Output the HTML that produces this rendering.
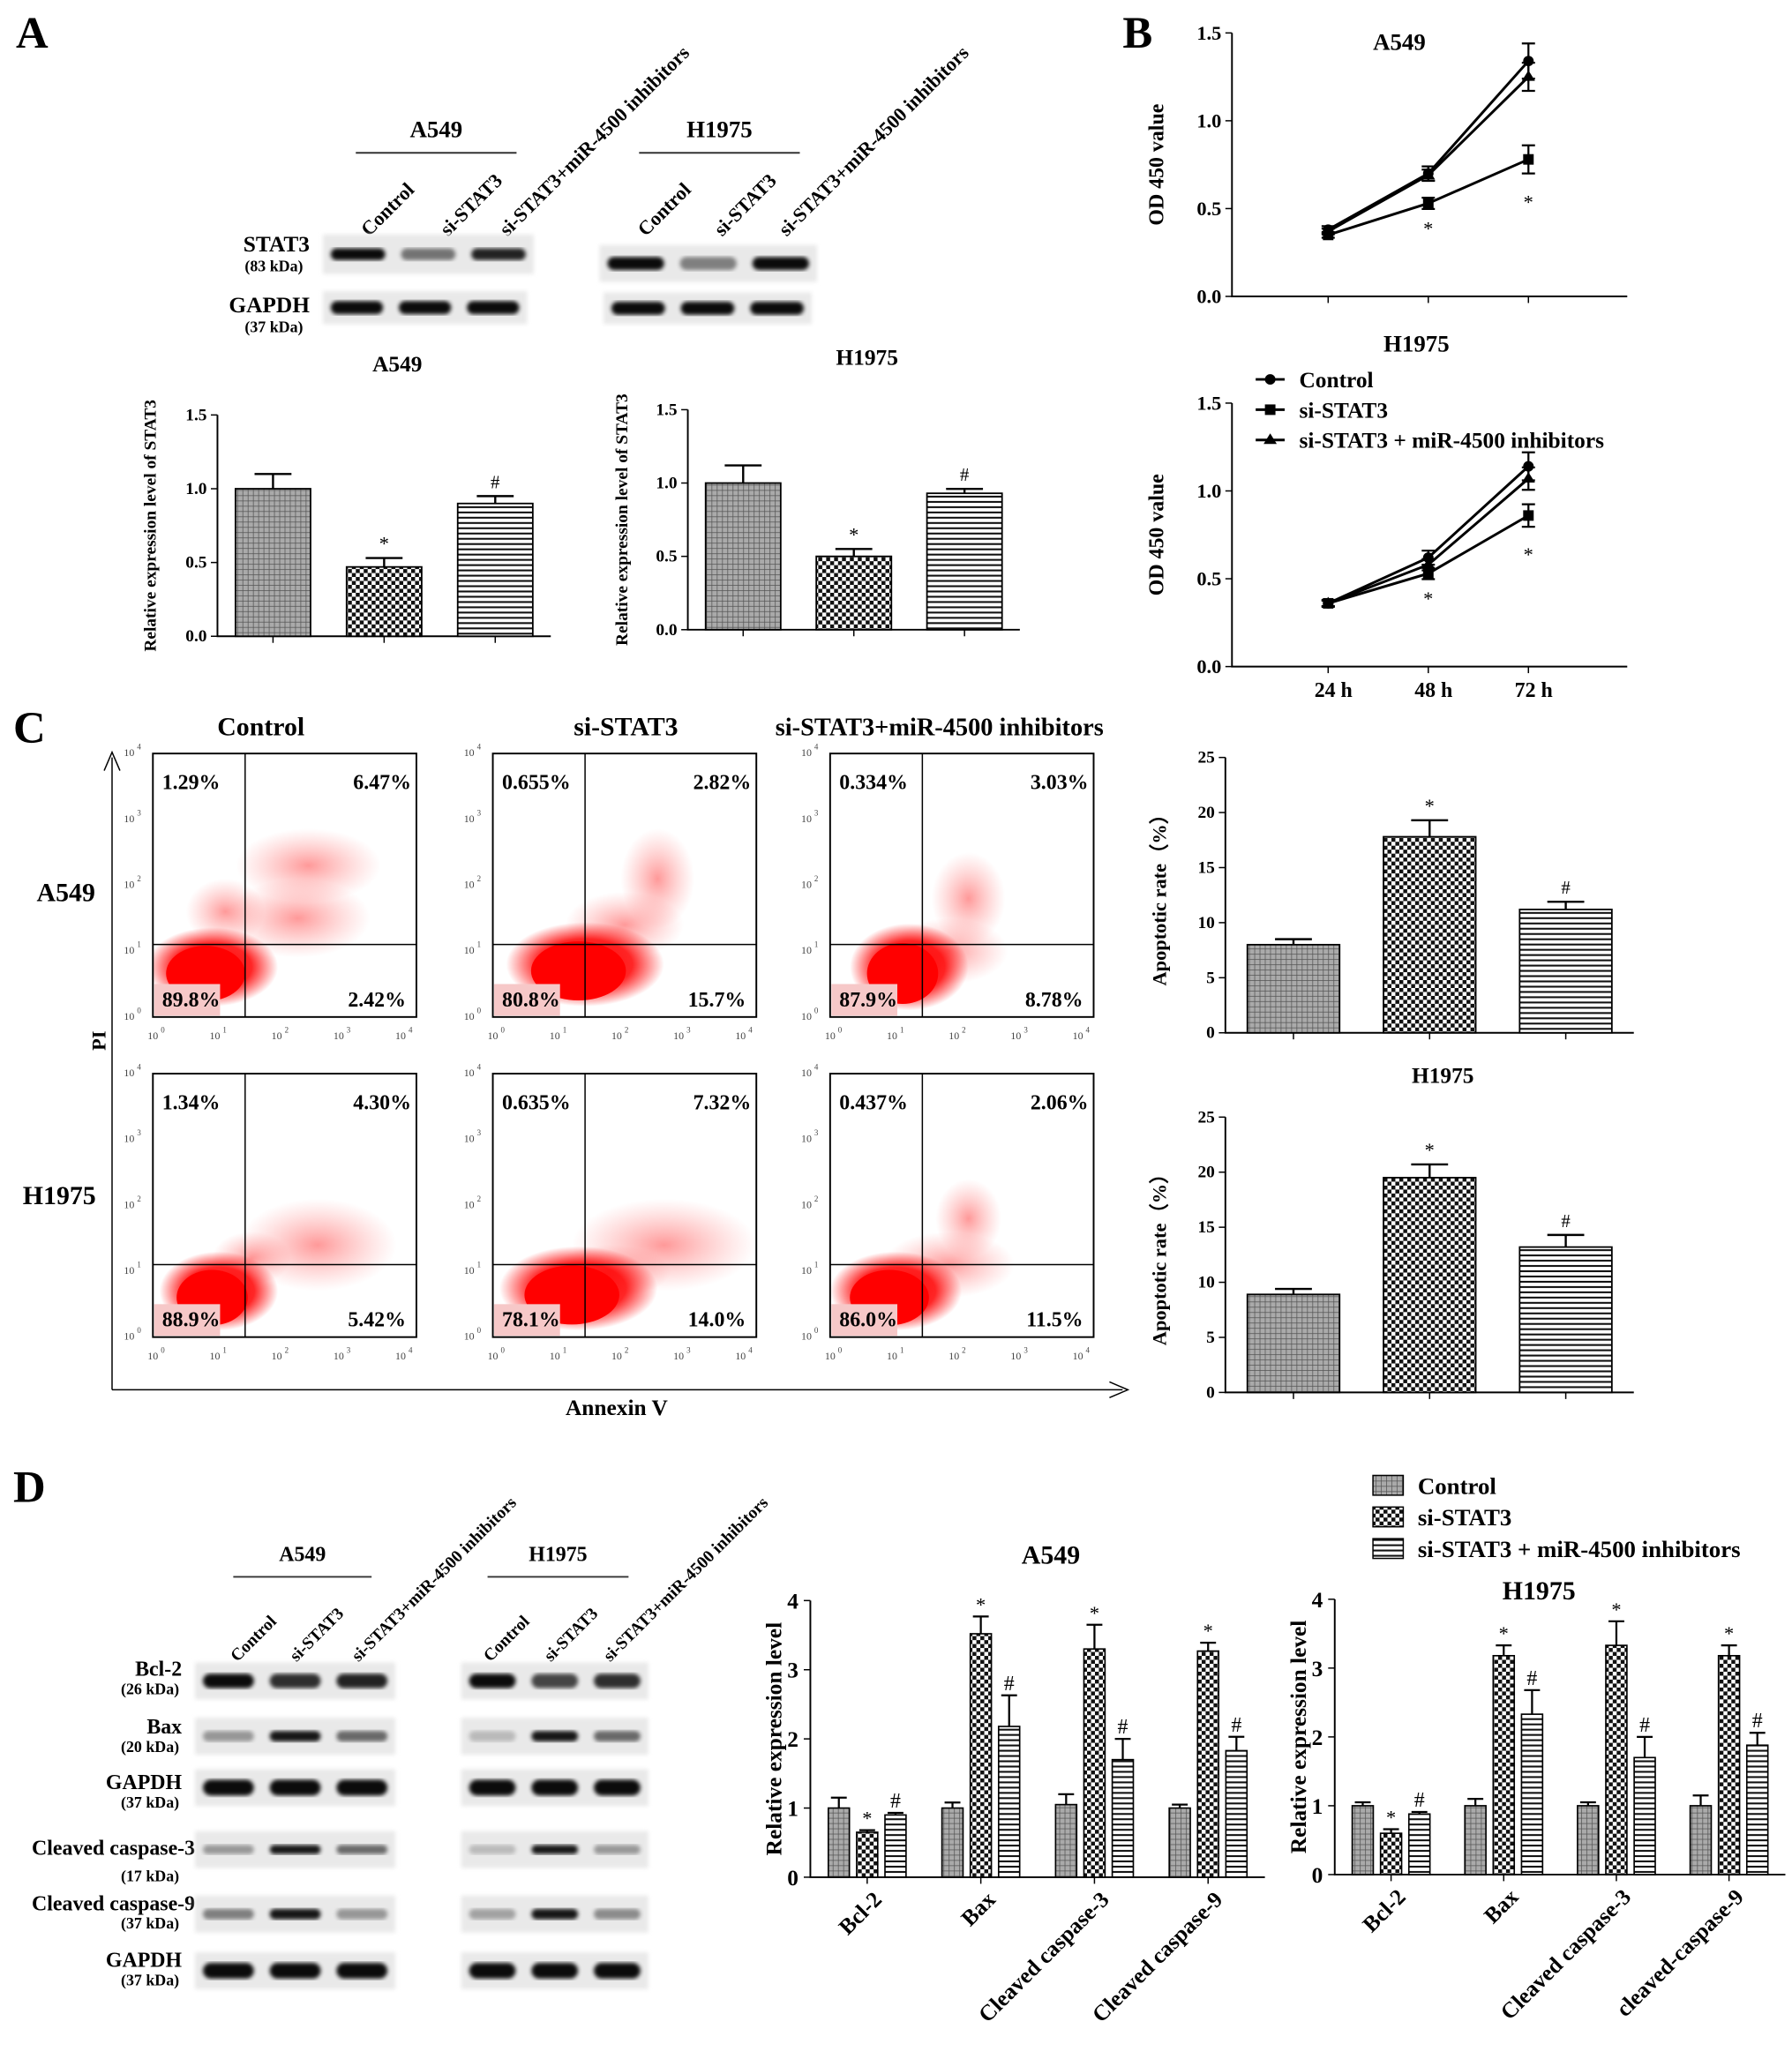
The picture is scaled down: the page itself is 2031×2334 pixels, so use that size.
<!DOCTYPE html>
<html><head><meta charset="utf-8"><style>
html,body{margin:0;padding:0;background:#fff;}
svg{display:block;font-family:"Liberation Serif",serif;font-weight:bold;}
</style></head><body>
<svg id="fig" xmlns="http://www.w3.org/2000/svg" width="2031" height="2334" viewBox="0 0 1360 1563">
<defs id="defs">
<pattern id="pCtrl" width="4" height="4" patternUnits="userSpaceOnUse"><rect width="4" height="4" fill="#aaa"/><path d="M0 0H4M0 0V4" stroke="#555" stroke-width="1"/></pattern>
<pattern id="pSi" width="6" height="6" patternUnits="userSpaceOnUse"><rect width="6" height="6" fill="#fff"/><rect width="3" height="3" fill="#111"/><rect x="3" y="3" width="3" height="3" fill="#111"/></pattern>
<pattern id="pInh" width="4" height="4" patternUnits="userSpaceOnUse"><rect width="4" height="4" fill="#fff"/><path d="M0 1H4" stroke="#111" stroke-width="1.4"/></pattern>
<filter id="blur1"><feGaussianBlur stdDeviation="1.6"/></filter>
<radialGradient id="gMain"><stop offset="0" stop-color="#f00" stop-opacity="1"/><stop offset="0.6" stop-color="#f00" stop-opacity="0.85"/><stop offset="1" stop-color="#f00" stop-opacity="0"/></radialGradient>
<radialGradient id="gCloud"><stop offset="0" stop-color="#f33" stop-opacity="0.5"/><stop offset="1" stop-color="#f66" stop-opacity="0"/></radialGradient>
</defs>
<g font-size="34">
<text x="12" y="36">A</text><text x="852" y="36">B</text><text x="10" y="564">C</text><text x="10" y="1140">D</text>
</g>
</svg>
<script>
// ---------- data ----------
const groups = ['Control','si-STAT3','si-STAT3+miR-4500 inhibitors'];
const stat3A549Vals = [1.0, 0.47, 0.9];
const stat3A549Err = [0.1, 0.06, 0.05];
const stat3H1975Vals = [1.0, 0.5, 0.93];
const stat3H1975Err = [0.12, 0.05, 0.03];
const stat3Ticks = [0, 0.5, 1.0, 1.5];
const marks = ['', '*', '#'];

const times = ['24 h','48 h','72 h'];
const odA549Ctrl = [0.38, 0.70, 1.34];
const odA549Si = [0.35, 0.53, 0.78];
const odA549Inh = [0.37, 0.69, 1.25];
const odA549Err = [0.02, 0.04, 0.1];
const odH1975Ctrl = [0.36, 0.62, 1.14];
const odH1975Si = [0.36, 0.53, 0.86];
const odH1975Inh = [0.36, 0.58, 1.07];
const odH1975Err = [0.02, 0.04, 0.08];
const odTicks = [0, 0.5, 1.0, 1.5];

const flowA549UL = ['1.29%','0.655%','0.334%'];
const flowA549UR = ['6.47%','2.82%','3.03%'];
const flowA549LL = ['89.8%','80.8%','87.9%'];
const flowA549LR = ['2.42%','15.7%','8.78%'];
const flowH1975UL = ['1.34%','0.635%','0.437%'];
const flowH1975UR = ['4.30%','7.32%','2.06%'];
const flowH1975LL = ['88.9%','78.1%','86.0%'];
const flowH1975LR = ['5.42%','14.0%','11.5%'];

const apoA549Vals = [8.0, 17.8, 11.2];
const apoA549Err = [0.5, 1.5, 0.7];
const apoH1975Vals = [8.9, 19.5, 13.2];
const apoH1975Err = [0.5, 1.2, 1.1];
const apoTicks = [0, 5, 10, 15, 20, 25];

const proteins = ['Bcl-2','Bax','Cleaved caspase-3','Cleaved caspase-9'];
const proteinsH = ['Bcl-2','Bax','Cleaved caspase-3','cleaved-caspase-9'];
const dA549Ctrl = [1.0, 1.0, 1.05, 1.0];
const dA549Si = [0.65, 3.52, 3.3, 3.27];
const dA549Inh = [0.9, 2.18, 1.7, 1.83];
const dA549CtrlErr = [0.15, 0.08, 0.15, 0.05];
const dA549SiErr = [0.03, 0.25, 0.35, 0.12];
const dA549InhErr = [0.03, 0.45, 0.3, 0.2];
const dH1975Ctrl = [1.0, 1.0, 1.0, 1.0];
const dH1975Si = [0.6, 3.18, 3.33, 3.18];
const dH1975Inh = [0.88, 2.33, 1.7, 1.88];
const dH1975CtrlErr = [0.05, 0.1, 0.05, 0.15];
const dH1975SiErr = [0.06, 0.15, 0.35, 0.15];
const dH1975InhErr = [0.03, 0.35, 0.3, 0.18];
const dTicks = [0, 1, 2, 3, 4];

const NS = 'http://www.w3.org/2000/svg';
const svg = document.getElementById('fig');
const defs = document.getElementById('defs');
function mk(tag, a, parent) {
  const e = document.createElementNS(NS, tag);
  for (const k in a) e.setAttribute(k, a[k]);
  (parent || svg).appendChild(e);
  return e;
}
function tx(x, y, s, size, parent, extra) {
  const e = mk('text', Object.assign({x: x, y: y, 'font-size': size}, extra || {}), parent);
  e.textContent = s;
  return e;
}
function grp(name) {
  const g = mk('g', {});
  
  
  return g;
}
const fills = ['url(#pCtrl)', 'url(#pSi)', 'url(#pInh)'];

function barChart(name, cfg, vals, errs, ticks, title, ytitle) {
  const g = grp(name);
  const y = v => cfg.y0 - (v - ticks[0]) / (ticks[ticks.length - 1] - ticks[0]) * (cfg.y0 - cfg.yTop);
  const ax = mk('path', {d: `M${cfg.x0} ${cfg.yTop}V${cfg.y0}H${cfg.x1}`, stroke: '#000', fill: 'none', 'stroke-width': 1.3}, g);
  
  
  ticks.forEach(t => {
    mk('line', {x1: cfg.x0 - 5, x2: cfg.x0, y1: y(t), y2: y(t), stroke: '#000'}, g);
    const lab = tx(cfg.x0 - 8, y(t) + 4, cfg.fmt(t), 13, g, {'text-anchor': 'end'});
    
    
  });
  const n = vals.length, slot = (cfg.x1 - cfg.x0) / n;
  vals.forEach((v, i) => {
    const cx = cfg.x0 + slot * (i + 0.5);
    mk('line', {x1: cx, x2: cx, y1: cfg.y0, y2: cfg.y0 + 5, stroke: '#000'}, g);
    const r = mk('rect', {x: cx - cfg.bw / 2, y: y(v), width: cfg.bw, height: cfg.y0 - y(v), fill: fills[i], stroke: '#000', 'stroke-width': 1.2}, g);
    
    
    const ye = y(v + errs[i]);
    mk('path', {d: `M${cx} ${y(v)}V${ye}M${cx - 14} ${ye}H${cx + 14}`, stroke: '#000', 'stroke-width': 1.6}, g);
    if (marks[i]) tx(cx, ye - 6, marks[i], marks[i] === '*' ? 15 : 14, g, {'text-anchor': 'middle', 'font-weight': 'normal'});
  });
  if (title) tx((cfg.x0 + cfg.x1) / 2 + 10, cfg.titleY, title, 17, g, {'text-anchor': 'middle'});
  const yt = tx(0, 0, ytitle, cfg.ytSize || 14, g, {'text-anchor': 'middle', transform: `translate(${cfg.ytX},${(cfg.y0 + cfg.yTop) / 2}) rotate(-90)`});
  
  
}

function blot(name, x, y, w, h, intens, bandH) {
  const g = grp(name);
  mk('rect', {x: x, y: y, width: w, height: h, fill: '#e9e9e9', filter: 'url(#blur1)'}, g);
  const lw = w / 3;
  intens.forEach((a, i) => {
    const b = mk('rect', {x: x + lw * i + 6, y: y + h / 2 - bandH / 2, width: lw - 12, height: bandH, rx: bandH / 2, fill: '#000', opacity: a, filter: 'url(#blur1)'}, g);
    
    
  });
}
function laneHeaders(name, title, tx0, lineX1, lineX2, titleY, lanesX, lanesY, size) {
  const g = grp(name);
  tx((lineX1 + lineX2) / 2, titleY, title, size + 3, g, {'text-anchor': 'middle'});
  mk('line', {x1: lineX1, x2: lineX2, y1: titleY + 12, y2: titleY + 12, stroke: '#333', 'stroke-width': 1.3}, g);
  groups.forEach((s, i) => {
    tx(0, 0, s, size, g, {transform: `translate(${lanesX[i]},${lanesY}) rotate(-45)`});
  });
}

laneHeaders('a549-blot-header', 'A549', 0, 270, 392, 104, [280, 340, 385], 180, 15);
laneHeaders('h1975-blot-header', 'H1975', 0, 485, 607, 104, [490, 548, 597], 180, 15);
blot('a549-stat3-blot', 245, 178, 160, 30, [0.95, 0.5, 0.85], 9);
blot('a549-gapdh-blot', 245, 221, 155, 25, [0.95, 0.95, 0.95], 10);
blot('h1975-stat3-blot', 455, 186, 165, 28, [0.95, 0.45, 0.95], 10);
blot('h1975-gapdh-blot', 458, 222, 158, 24, [0.95, 0.95, 0.95], 10);
{
  const g = grp('a-blot-labels');
  tx(235, 191, 'STAT3', 17, g, {'text-anchor': 'end'});
  tx(230, 206, '(83 kDa)', 12, g, {'text-anchor': 'end'});
  tx(235, 237, 'GAPDH', 17, g, {'text-anchor': 'end'});
  tx(230, 252, '(37 kDa)', 12, g, {'text-anchor': 'end'});
}
const f1 = t => t === 0 ? '0.0' : t.toFixed(1);
barChart('stat3-a549-chart', {x0: 165, x1: 418, y0: 483, yTop: 315, bw: 57, titleY: 282, ytX: 118, fmt: f1, ytSize: 13}, stat3A549Vals, stat3A549Err, stat3Ticks, 'A549', 'Relative expression level of STAT3');
barChart('stat3-h1975-chart', {x0: 522, x1: 774, y0: 478, yTop: 311, bw: 57, titleY: 277, ytX: 476, fmt: f1, ytSize: 13}, stat3H1975Vals, stat3H1975Err, stat3Ticks, 'H1975', 'Relative expression level of STAT3');

function lineChart(name, cfg, series, err, title, showX) {
  const g = grp(name);
  const y = v => cfg.y0 - v / 1.5 * (cfg.y0 - cfg.yTop);
  const x = i => 1008 + i * 76;
  mk('path', {d: `M${cfg.x0} ${cfg.yTop}V${cfg.y0}H1235`, stroke: '#000', fill: 'none', 'stroke-width': 1.3}, g);
  odTicks.forEach(t => {
    mk('line', {x1: cfg.x0 - 5, x2: cfg.x0, y1: y(t), y2: y(t), stroke: '#000'}, g);
    tx(cfg.x0 - 8, y(t) + 5, t.toFixed(1), 15, g, {'text-anchor': 'end'});
  });
  times.forEach((t, i) => {
    mk('line', {x1: x(i), x2: x(i), y1: cfg.y0, y2: cfg.y0 + 5, stroke: '#000'}, g);
    if (showX) tx(x(i) + 4, cfg.y0 + 23, t, 16, g, {'text-anchor': 'middle'});
  });
  series.forEach((s, k) => {
    const p = mk('polyline', {points: s.map((v, i) => x(i) + ',' + y(v)).join(' '), fill: 'none', stroke: '#000', 'stroke-width': 2}, g);
    
    
    s.forEach((v, i) => {
      const e = err[i] * (k === 0 ? 1 : 0.8);
      mk('path', {d: `M${x(i)} ${y(v - e)}V${y(v + e)}M${x(i) - 5} ${y(v + e)}h10M${x(i) - 5} ${y(v - e)}h10`, stroke: '#000', 'stroke-width': 1.5}, g);
      if (k === 0) mk('circle', {cx: x(i), cy: y(v), r: 4, fill: '#000'}, g);
      else if (k === 1) mk('rect', {x: x(i) - 4, y: y(v) - 4, width: 8, height: 8, fill: '#000'}, g);
      else mk('path', {d: `M${x(i)} ${y(v) - 5}l5 8h-10z`, fill: '#000'}, g);
    });
    if (k === 1) { tx(x(1), y(s[1]) + 24, '*', 15, g, {'text-anchor': 'middle', 'font-weight': 'normal'}); tx(x(2), y(s[2] - err[2]) + 24, '*', 15, g, {'text-anchor': 'middle', 'font-weight': 'normal'}); }
  });
  tx(1062, cfg.yTop + 13, title, 18, g, {'text-anchor': 'middle'});
  tx(0, 0, 'OD 450 value', 16, g, {'text-anchor': 'middle', transform: `translate(${cfg.x0 - 52},${(cfg.y0 + cfg.yTop) / 2}) rotate(-90)`});
}
lineChart('od-a549-chart', {x0: 935, y0: 225, yTop: 25}, [odA549Ctrl, odA549Si, odA549Inh], odA549Err, 'A549', false);
lineChart('od-h1975-chart', {x0: 935, y0: 506, yTop: 306}, [odH1975Ctrl, odH1975Si, odH1975Inh], odH1975Err, '', true);
{
  const g = grp('od-h1975-title');
  tx(1075, 267, 'H1975', 18, g, {'text-anchor': 'middle'});
  const lg = grp('od-legend');
  const labs = ['Control', 'si-STAT3', 'si-STAT3 + miR-4500 inhibitors'];
  labs.forEach((s, i) => {
    const yy = 288 + i * 23;
    mk('line', {x1: 953, x2: 975, y1: yy, y2: yy, stroke: '#000', 'stroke-width': 2}, lg);
    if (i === 0) mk('circle', {cx: 964, cy: yy, r: 4, fill: '#000'}, lg);
    else if (i === 1) mk('rect', {x: 960, y: yy - 4, width: 8, height: 8, fill: '#000'}, lg);
    else mk('path', {d: `M964 ${yy - 5}l5 8h-10z`, fill: '#000'}, lg);
    const t = tx(986, yy + 6, s, 17, lg);
    
    
  });
}

{
  const g = grp('flow-frame');
  mk('path', {d: 'M85 1055V575M79 585L85 571L91 585', stroke: '#000', fill: 'none', 'stroke-width': 1}, g);
  mk('path', {d: 'M85 1055H852M842 1049L856 1055L842 1061', stroke: '#000', fill: 'none', 'stroke-width': 1}, g);
  tx(0, 0, 'PI', 15, g, {'text-anchor': 'middle', transform: 'translate(80,790) rotate(-90)'});
  tx(468, 1074, 'Annexin V', 17, g, {'text-anchor': 'middle'});
  tx(198, 558, 'Control', 20, g, {'text-anchor': 'middle'});
  tx(475, 558, 'si-STAT3', 20, g, {'text-anchor': 'middle'});
  tx(713, 558, 'si-STAT3+miR-4500 inhibitors', 19, g, {'text-anchor': 'middle'});
  tx(50, 684, 'A549', 20, g, {'text-anchor': 'middle'});
  tx(45, 914, 'H1975', 20, g, {'text-anchor': 'middle'});
}
const colX = [116, 374, 630];
const rowY = [572, 815];
// clouds [cx, cy, rx, ry] relative to plot box, per column then row
const clouds = [
  [[[118, 85, 55, 28], [110, 125, 55, 30], [55, 120, 30, 25]], [[125, 130, 60, 35], [75, 140, 30, 20]]],
  [[[125, 95, 28, 38], [100, 130, 45, 25]], [[130, 130, 70, 35], [90, 150, 45, 20]]],
  [[[105, 110, 28, 35], [90, 150, 45, 25]], [[105, 110, 25, 30], [90, 145, 50, 25]]]
];
const mainBlob = [[[45, 162, 50, 30], [70, 160, 60, 32], [60, 162, 45, 33]], [[50, 165, 45, 30], [65, 163, 60, 32], [50, 165, 50, 30]]];
function flowPlot(r, c, ul, ur, ll, lr) {
  const g = grp('flow-plot-' + ['a549', 'h1975'][r] + '-' + ['control', 'si-stat3', 'inhibitors'][c]);
  const x0 = colX[c], y0 = rowY[r], w = 200, h = 200;
  const cp = mk('clipPath', {id: 'clip' + r + c}, defs);
  mk('rect', {x: x0, y: y0, width: w, height: h}, cp);
  const cl = mk('g', {'clip-path': `url(#clip${r}${c})`}, g);
  clouds[c][r].forEach(e => mk('ellipse', {cx: x0 + e[0], cy: y0 + e[1], rx: e[2], ry: e[3], fill: 'url(#gCloud)'}, cl));
  const m = mainBlob[r][c];
  mk('ellipse', {cx: x0 + m[0], cy: y0 + m[1], rx: m[2], ry: m[3], fill: 'url(#gMain)'}, cl);
  mk('ellipse', {cx: x0 + m[0] - 5, cy: y0 + m[1] + 5, rx: m[2] * 0.6, ry: m[3] * 0.7, fill: '#f00'}, cl);
  mk('rect', {x: x0 + 1, y: y0 + 175, width: 50, height: 24, fill: '#f6c8c8'}, cl);
  mk('rect', {x: x0, y: y0, width: w, height: h, fill: 'none', stroke: '#000', 'stroke-width': 1.3}, g);
  mk('line', {x1: x0 + 70, x2: x0 + 70, y1: y0, y2: y0 + h, stroke: '#000', 'stroke-width': 1}, g);
  mk('line', {x1: x0, x2: x0 + w, y1: y0 + 145, y2: y0 + 145, stroke: '#000', 'stroke-width': 1}, g);
  tx(x0 + 7, y0 + 27, ul, 16, g);
  tx(x0 + w - 4, y0 + 27, ur, 16, g, {'text-anchor': 'end'});
  tx(x0 + 7, y0 + 192, ll, 16, g);
  tx(x0 + w - 8, y0 + 192, lr, 16, g, {'text-anchor': 'end'});
  for (let k = 0; k <= 4; k++) {
    const tx0 = x0 + k * 47, ty = y0 + h - k * 50 - 2;
    tx(tx0 - 4, y0 + h + 17, '10', 8, g, {'font-weight': 'normal', fill: '#444'});
    tx(tx0 + 6, y0 + h + 12, String(k), 6, g, {'font-weight': 'normal', fill: '#444'});
    tx(x0 - 22, ty + 4, '10', 8, g, {'font-weight': 'normal', fill: '#444'});
    tx(x0 - 12, ty - 1, String(k), 6, g, {'font-weight': 'normal', fill: '#444'});
  }
}
for (let c = 0; c < 3; c++) {
  flowPlot(0, c, flowA549UL[c], flowA549UR[c], flowA549LL[c], flowA549LR[c]);
  flowPlot(1, c, flowH1975UL[c], flowH1975UR[c], flowH1975LL[c], flowH1975LR[c]);
}
const fi = t => String(t);
barChart('apoptosis-a549-chart', {x0: 930, x1: 1240, y0: 784, yTop: 575, bw: 70, titleY: 0, ytX: 885, fmt: fi, ytSize: 15}, apoA549Vals, apoA549Err, apoTicks, '', 'Apoptotic rate（%）');
barChart('apoptosis-h1975-chart', {x0: 930, x1: 1240, y0: 1057, yTop: 848, bw: 70, titleY: 822, ytX: 885, fmt: fi, ytSize: 15}, apoH1975Vals, apoH1975Err, apoTicks, 'H1975', 'Apoptotic rate（%）');

laneHeaders('d-a549-blot-header', 'A549', 0, 177, 282, 1185, [180, 225, 272], 1262, 13);
laneHeaders('d-h1975-blot-header', 'H1975', 0, 370, 477, 1185, [372, 418, 463], 1262, 13);
const dRows = [['Bcl-2', '(26 kDa)', 1276, [0.95, 0.8, 0.85], [0.95, 0.7, 0.8], 11],
  ['Bax', '(20 kDa)', 1318, [0.35, 0.9, 0.55], [0.2, 0.9, 0.55], 8],
  ['GAPDH', '(37 kDa)', 1357, [0.95, 0.95, 0.95], [0.95, 0.95, 0.95], 12],
  ['Cleaved caspase-3', '(17 kDa)', 1404, [0.35, 0.9, 0.55], [0.2, 0.9, 0.35], 7],
  ['Cleaved caspase-9', '(37 kDa)', 1453, [0.45, 0.9, 0.35], [0.3, 0.9, 0.4], 8],
  ['GAPDH', '(37 kDa)', 1496, [0.95, 0.95, 0.95], [0.95, 0.95, 0.95], 12]];
{
  const g = grp('d-blot-labels');
  const ly = [1272, 1316, 1358, 1408, 1450, 1493];
  dRows.forEach((r, i) => {
    tx(i === 3 || i === 4 ? 148 : 138, ly[i], r[0], 16, g, {'text-anchor': 'end'});
    tx(136, ly[i] + (i === 3 ? 20 : 14), r[1], 12, g, {'text-anchor': 'end'});
  });
}
dRows.forEach((r, i) => {
  blot('d-a549-blot-' + i, 148, r[2] - 14, 152, 28, r[3], r[5]);
  blot('d-h1975-blot-' + i, 350, r[2] - 14, 142, 28, r[4], r[5]);
});

function groupedChart(name, cfg, ctrl, si, inh, ctrlE, siE, inhE, cats, title) {
  const g = grp(name);
  const y = v => cfg.y0 - v / 4 * (cfg.y0 - cfg.yTop);
  mk('path', {d: `M${cfg.x0} ${cfg.yTop}V${cfg.y0}H${cfg.x1}`, stroke: '#000', fill: 'none', 'stroke-width': 1.3}, g);
  dTicks.forEach(t => {
    mk('line', {x1: cfg.x0 - 5, x2: cfg.x0, y1: y(t), y2: y(t), stroke: '#000'}, g);
    tx(cfg.x0 - 9, y(t) + 6, String(t), 17, g, {'text-anchor': 'end'});
  });
  const slot = (cfg.x1 - cfg.x0) / cats.length;
  const sets = [ctrl, si, inh], errs = [ctrlE, siE, inhE];
  cats.forEach((c, j) => {
    const cx = cfg.x0 + slot * (j + 0.5);
    mk('line', {x1: cx, x2: cx, y1: cfg.y0, y2: cfg.y0 + 5, stroke: '#000'}, g);
    tx(0, 0, c, 17, g, {'text-anchor': 'end', transform: `translate(${cx + 12},${cfg.y0 + 18}) rotate(-45)`});
    sets.forEach((s, k) => {
      const bx = cx + (k - 1) * 21.5;
      const b = mk('rect', {x: bx - 8, y: y(s[j]), width: 16, height: cfg.y0 - y(s[j]), fill: fills[k], stroke: '#000', 'stroke-width': 1.1}, g);
      
      
      const ye = y(s[j] + errs[k][j]);
      mk('path', {d: `M${bx} ${y(s[j])}V${ye}M${bx - 6} ${ye}h12`, stroke: '#000', 'stroke-width': 1.5}, g);
      if (marks[k]) tx(bx, ye - 4, marks[k], marks[k] === '*' ? 15 : 16, g, {'text-anchor': 'middle', 'font-weight': 'normal'});
    });
  });
  tx((cfg.x0 + cfg.x1) / 2 + 10, cfg.yTop - 28, title, 20, g, {'text-anchor': 'middle'});
  tx(0, 0, 'Relative expression level', 17, g, {'text-anchor': 'middle', transform: `translate(${cfg.x0 - 22},${(cfg.y0 + cfg.yTop) / 2}) rotate(-90)`});
}
groupedChart('d-a549-chart', {x0: 615, x1: 960, y0: 1425, yTop: 1215}, dA549Ctrl, dA549Si, dA549Inh, dA549CtrlErr, dA549SiErr, dA549InhErr, proteins, 'A549');
groupedChart('d-h1975-chart', {x0: 1013, x1: 1355, y0: 1423, yTop: 1214}, dH1975Ctrl, dH1975Si, dH1975Inh, dH1975CtrlErr, dH1975SiErr, dH1975InhErr, proteinsH, '');
{
  const g = grp('d-legend');
  tx(1168, 1214, 'H1975', 20, g, {'text-anchor': 'middle'});
  ['Control', 'si-STAT3', 'si-STAT3 + miR-4500 inhibitors'].forEach((s, i) => {
    const yy = 1120 + i * 24;
    mk('rect', {x: 1042, y: yy, width: 23, height: 15, fill: fills[i], stroke: '#000'}, g);
    const t = tx(1076, yy + 14, s, 18, g);
    
    
  });
}
</script>
</body></html>
